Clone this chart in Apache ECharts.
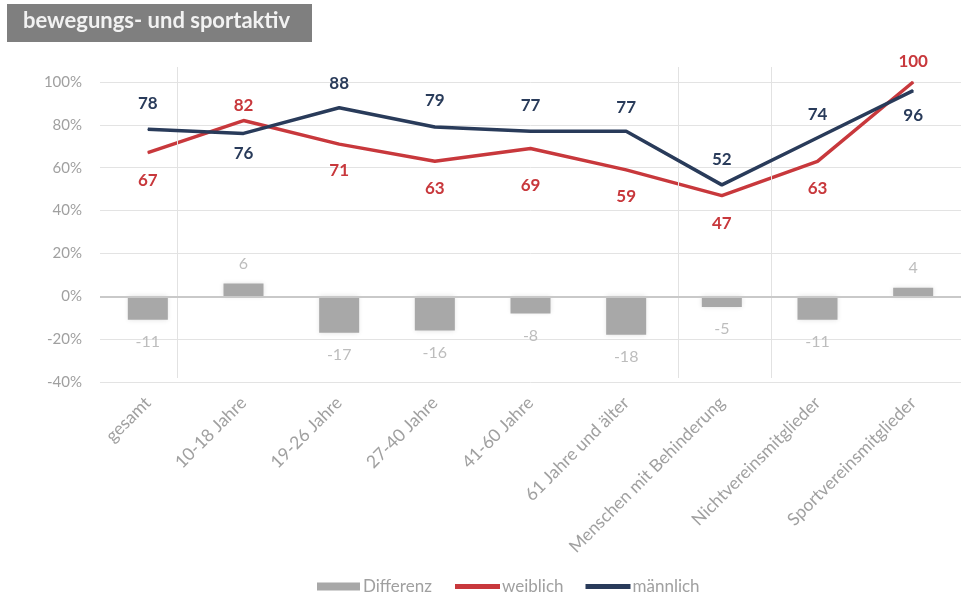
<!DOCTYPE html>
<html>
<head>
<meta charset="utf-8">
<title>bewegungs- und sportaktiv</title>
<script src="https://cdn.jsdelivr.net/npm/echarts@6/dist/echarts.min.js"></script>
<style>
  html, body { margin: 0; padding: 0; background: #ffffff; }
  #chart { width: 961px; height: 600px; }
</style>
</head>
<body>
<div id="chart"></div>
<script>
// Categories along the x axis
const categories = [
  'gesamt', '10-18 Jahre', '19-26 Jahre', '27-40 Jahre', '41-60 Jahre',
  '61 Jahre und älter', 'Menschen mit Behinderung', 'Nichtvereinsmitglieder',
  'Sportvereinsmitglieder'
];

// Share of active people (%) per group
const weiblich  = [67, 82, 71, 63, 69, 59, 47, 63, 100];
const maennlich = [78, 76, 88, 79, 77, 77, 52, 74, 96];
// Difference weiblich - männlich (percentage points)
const differenz = [-11, 6, -17, -16, -8, -18, -5, -11, 4];

// Value axis ticks
const yMin = -40, yMax = 100, yStep = 20;

// Group separators, in category-index units
const separatorPos = [0.31, 5.54, 6.52];

// Label placement for the two lines (side and gap from the point)
const weiblichSide  = ['bottom', 'top', 'bottom', 'bottom', 'bottom', 'bottom', 'bottom', 'bottom', 'top'];
const weiblichGap   = [19, 6, 17, 18, 28, 18, 19, 18, 11];
const maennlichSide = ['top', 'bottom', 'top', 'top', 'top', 'top', 'top', 'top', 'bottom'];
const maennlichGap  = [17, 11, 15, 17, 17, 15, 16, 14, 16];

const FONT = 'Lato';
const RED = '#c8383c';
const NAVY = '#293b5a';
const GREY_TEXT = '#a0a0a0';

function lineData(values, sides, gaps) {
  return values.map((v, i) => ({
    value: v,
    label: { position: sides[i], distance: gaps[i] }
  }));
}

const barData = differenz.map(v => ({
  value: v,
  label: { position: v < 0 ? 'bottom' : 'top', distance: v < 0 ? 14 : 12 }
}));

const chart = echarts.init(document.getElementById('chart'), null, { renderer: 'canvas' });

chart.setOption({
  animation: false,
  backgroundColor: '#ffffff',
  textStyle: { fontFamily: FONT },
  graphic: [
    {
      type: 'rect',
      left: 7, top: 4,
      shape: { width: 305, height: 38 },
      style: { fill: '#7f7f7f' },
      silent: true
    },
    {
      type: 'text',
      left: 23, top: 10,
      style: {
        text: 'bewegungs- und sportaktiv',
        fill: '#f2f2f2',
        font: 'bold 22px Lato'
      },
      silent: true
    }
  ],
  grid: [
    // main plot
    { left: 100, top: 82, width: 866, height: 300, containLabel: false },
    // frame for the group separators (slightly taller than the plot)
    { left: 100, top: 67, width: 866, height: 311, containLabel: false }
  ],
  legend: [
    {
      data: [{ name: 'Differenz', icon: 'rect' }],
      left: 317, top: 578,
      padding: 0,
      itemWidth: 43, itemHeight: 8,
      textStyle: { color: GREY_TEXT, fontSize: 17, fontFamily: FONT, padding: [0, 0, 0, -2] },
      selectedMode: false
    },
    {
      data: [{ name: 'weiblich', icon: 'rect' }, { name: 'männlich', icon: 'rect' }],
      left: 455, top: 578,
      padding: 0,
      itemWidth: 45, itemHeight: 5,
      itemGap: 22,
      textStyle: { color: GREY_TEXT, fontSize: 17, fontFamily: FONT, padding: [0, 0, 0, -3] },
      selectedMode: false
    }
  ],
  xAxis: [
    {
      type: 'category',
      gridIndex: 0,
      data: categories,
      axisLine: { show: false },
      axisTick: { show: false },
      splitLine: { show: false },
      axisLabel: {
        interval: 0,
        rotate: 45,
        margin: 18,
        color: GREY_TEXT,
        fontSize: 17.5,
        fontFamily: FONT
      }
    },
    {
      type: 'value',
      gridIndex: 1,
      min: -0.5, max: 8.5,
      show: false
    }
  ],
  yAxis: [
    {
      type: 'value',
      gridIndex: 0,
      min: yMin, max: yMax, interval: yStep,
      axisLine: { show: false },
      axisTick: { show: false },
      splitLine: { lineStyle: { color: '#e3e3e3', width: 1 } },
      axisLabel: {
        formatter: '{value}%',
        margin: 18,
        color: GREY_TEXT,
        fontSize: 15,
        fontFamily: FONT
      }
    },
    {
      type: 'value',
      gridIndex: 1,
      min: 0, max: 1,
      show: false
    }
  ],
  series: [
    {
      name: 'Trenner',
      type: 'scatter',
      xAxisIndex: 1,
      yAxisIndex: 1,
      data: [[0, 0]],
      symbolSize: 0,
      silent: true,
      markLine: {
        silent: true,
        symbol: ['none', 'none'],
        label: { show: false },
        lineStyle: { color: '#e2e2e2', width: 1, type: 'solid' },
        data: separatorPos.map(x => ({ xAxis: x }))
      }
    },
    {
      name: 'Differenz',
      type: 'bar',
      data: barData,
      barWidth: 40,
      itemStyle: {
        color: '#a8a8a8',
        shadowColor: 'rgba(0,0,0,0.12)',
        shadowBlur: 5
      },
      label: {
        show: true,
        color: '#bdbdbd',
        fontSize: 16,
        fontFamily: FONT
      },
      markLine: {
        silent: true,
        symbol: ['none', 'none'],
        label: { show: false },
        lineStyle: { color: '#c9c9c9', width: 2, type: 'solid' },
        data: [{ yAxis: 0 }]
      }
    },
    {
      name: 'weiblich',
      type: 'line',
      data: lineData(weiblich, weiblichSide, weiblichGap),
      symbol: 'circle',
      symbolSize: 1,
      showSymbol: true,
      lineStyle: { color: RED, width: 3.5 },
      itemStyle: { color: RED },
      label: {
        show: true,
        color: RED,
        fontSize: 17,
        fontWeight: 'bold',
        fontFamily: FONT
      },
      z: 4
    },
    {
      name: 'männlich',
      type: 'line',
      data: lineData(maennlich, maennlichSide, maennlichGap),
      symbol: 'circle',
      symbolSize: 1,
      showSymbol: true,
      lineStyle: { color: NAVY, width: 3.5 },
      itemStyle: { color: NAVY },
      label: {
        show: true,
        color: NAVY,
        fontSize: 17,
        fontWeight: 'bold',
        fontFamily: FONT
      },
      z: 5
    }
  ]
});
</script>
</body>
</html>
